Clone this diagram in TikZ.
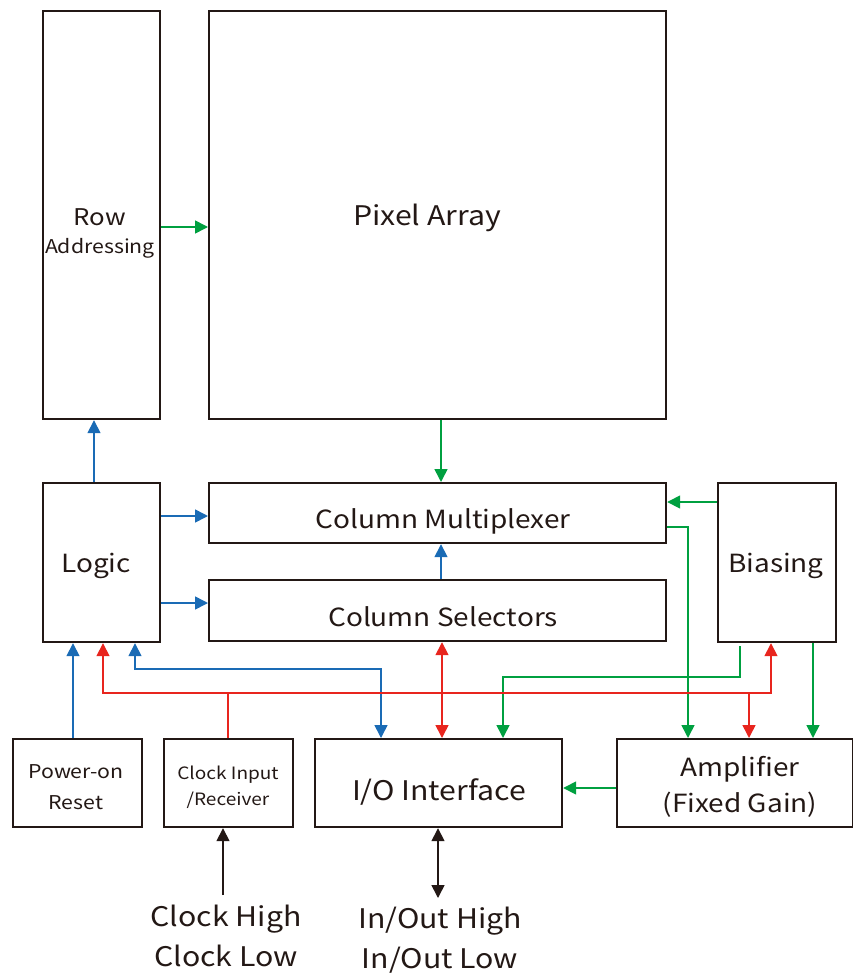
\documentclass[tikz,border=0pt]{standalone}
\usepackage{fontspec}
\setmainfont[FakeStretch=1.12]{Noto Sans CJK JP}
\usetikzlibrary{arrows.meta}
\definecolor{cblue}{HTML}{1A6BB5}
\definecolor{cgreen}{HTML}{00A040}
\definecolor{cred}{HTML}{E8251E}
\definecolor{cblack}{HTML}{231815}
\tikzset{
  blk/.style={draw=cblack,line width=2.2pt,inner sep=0pt,text=cblack},
  conn/.style={line width=1.6pt,-{Triangle[length=13pt,width=13pt]}},
  dconn/.style={line width=1.6pt,{Triangle[length=13pt,width=13pt]}-{Triangle[length=13pt,width=13pt]}},
  lbl/.style={text=cblack,align=center,inner sep=0pt}
}
\begin{document}
\begin{tikzpicture}[x=1pt,y=-1pt]
\useasboundingbox (0,0) rectangle (853,974);
% boxes
\node[blk,minimum width=117pt,minimum height=408pt,anchor=north west] (row) at (42,10) {};
\node[blk,minimum width=457pt,minimum height=408pt,anchor=north west] (pix) at (208,10) {};
\node[blk,minimum width=117pt,minimum height=159pt,anchor=north west] (logic) at (42,482) {};
\node[blk,minimum width=457pt,minimum height=60pt,anchor=north west] (mux) at (208,482) {};
\node[blk,minimum width=457pt,minimum height=61pt,anchor=north west] (sel) at (208,579) {};
\node[blk,minimum width=118pt,minimum height=159pt,anchor=north west] (bias) at (717,482) {};
\node[blk,minimum width=129pt,minimum height=88pt,anchor=north west] (por) at (12,738) {};
\node[blk,minimum width=129pt,minimum height=88pt,anchor=north west] (clk) at (163,738) {};
\node[blk,minimum width=247pt,minimum height=88pt,anchor=north west] (io) at (314,738) {};
\node[blk,minimum width=236pt,minimum height=88pt,anchor=north west] (amp) at (616,738) {};
% labels
\node[lbl,font=\fontsize{23}{30}\selectfont] (trow) at (100,217) {Row};
\node[lbl,font=\fontsize{19}{20}\selectfont] (trow2) at (100,248) {Addressing};
\node[lbl,font=\fontsize{27}{28}\selectfont] (tpix) at (427,218) {Pixel Array};
\node[lbl,font=\fontsize{25}{26}\selectfont] (tlogic) at (96,566) {Logic};
\node[lbl,font=\fontsize{25}{26}\selectfont] (tmux) at (443,521) {Column Multiplexer};
\node[lbl,font=\fontsize{25}{26}\selectfont] (tsel) at (443,617) {Column Selectors};
\node[lbl,font=\fontsize{25}{26}\selectfont] (tbias) at (776,566) {Biasing};
\node[lbl,font=\fontsize{19}{31}\selectfont] (tpor) at (76,787) {Power-on\\Reset};
\node[lbl,font=\fontsize{17}{26}\selectfont] (tclk) at (228,787) {Clock Input\\/Receiver};
\node[lbl,font=\fontsize{27}{28}\selectfont] (tio) at (439,792) {I/O Interface};
\node[lbl,font=\fontsize{25}{36}\selectfont] (tamp) at (740,787) {Amplifier\\(Fixed Gain)};
\node[lbl,font=\fontsize{27}{40}\selectfont,anchor=north] (tclkin) at (226,905) {Clock High\\Clock Low};
\node[lbl,font=\fontsize{27}{40}\selectfont,anchor=north] (tioin) at (440,907) {In/Out High\\In/Out Low};
% coordinates
\coordinate (a1) at (135,669);
\coordinate (a2) at (381,669);
\coordinate (r1) at (103,693);
\coordinate (r2) at (228,693);
\coordinate (r3) at (749,693);
\coordinate (r4) at (771,693);
\coordinate (g1) at (740,677);
\coordinate (g2) at (503,677);
\coordinate (g3) at (688,527);
\coordinate (clkb) at (223,895);
\coordinate (iob) at (438,898);
% green
\draw[conn,cgreen] (row.east |- 0,227) -- (pix.west |- 0,227);
\draw[conn,cgreen] (pix.south -| 441,0) -- (mux.north -| 441,0);
\draw[conn,cgreen] (bias.west |- 0,502) -- (mux.east |- 0,502);
\draw[conn,cgreen] (mux.east |- g3) -- (g3) -- (amp.north -| g3);
\draw[conn,cgreen] (740,646) -- (g1) -- (g2) -- (io.north -| g2);
\draw[conn,cgreen] (bias.south -| 813,0) -- (amp.north -| 813,0);
\draw[conn,cgreen] (amp.west |- 0,788) -- (io.east |- 0,788);
% blue
\draw[conn,cblue] (logic.north -| 94,0) -- (row.south -| 94,0);
\draw[conn,cblue] (logic.east |- 0,516) -- (mux.west |- 0,516);
\draw[conn,cblue] (logic.east |- 0,603) -- (sel.west |- 0,603);
\draw[conn,cblue] (sel.north -| 441,0) -- (mux.south -| 441,0);
\draw[conn,cblue] (por.north -| 73,0) -- (logic.south -| 73,0);
\draw[dconn,cblue] (logic.south -| a1) -- (a1) -- (a2) -- (io.north -| a2);
% red
\draw[conn,cred] (clk.north -| r2) -- (r2) -- (r1) -- (logic.south -| r1);
\draw[conn,cred] (r2) -- (r4) -- (bias.south -| r4);
\draw[conn,cred] (r3) -- (amp.north -| r3);
\draw[dconn,cred] (sel.south -| 442,0) -- (io.north -| 442,0);
% black
\draw[conn,cblack] (clkb) -- (clk.south -| clkb);
\draw[dconn,cblack] (io.south -| iob) -- (iob);
\end{tikzpicture}
\end{document}
